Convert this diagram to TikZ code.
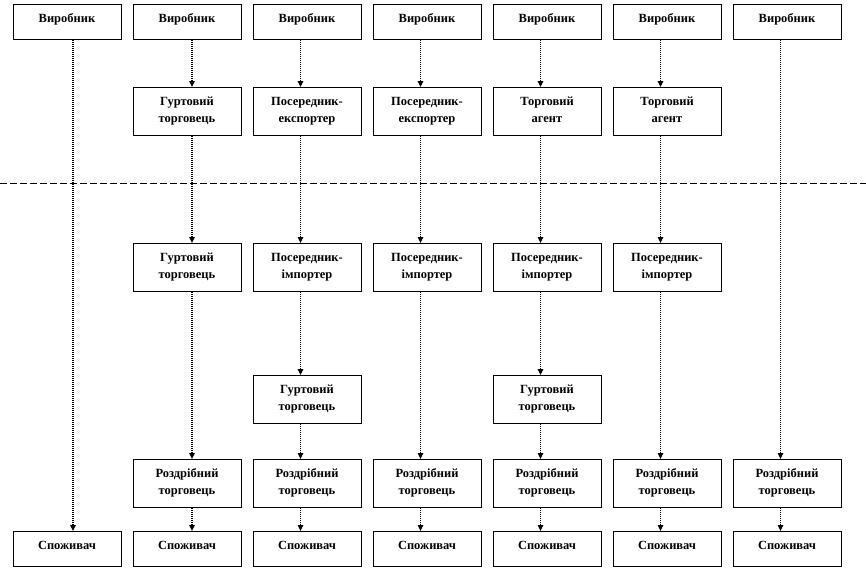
\documentclass[tikz,border=0pt]{standalone}
\usepackage{fontspec}
\setmainfont{Liberation Serif}
\usetikzlibrary{arrows.meta}
\newcommand{\twol}[2]{\begin{tabular}[t]{@{}c@{}}#1\\#2\end{tabular}}
\begin{document}
\begin{tikzpicture}[x=1pt,y=-1pt,
  box/.style={draw, line width=0.9pt, minimum width=108pt, inner sep=0pt, anchor=north,
    font=\fontsize{12.5}{17}\selectfont\bfseries},
  one/.style={box, minimum height=35pt, text height=9pt, text depth=8pt},
  two/.style={box, minimum height=48pt, text height=9pt, text depth=21pt},
  conn/.style={line width=1.3pt, dash pattern=on 1pt off 1pt,
    -{Triangle[length=6pt,width=5.5pt]}},
  sep/.style={line width=0.9pt, dash pattern=on 6.5pt off 3.5pt}]
\useasboundingbox (0,0) rectangle (866,570);
% separator
\coordinate (dl) at (0,183);
\coordinate (dr) at (866,183);
\draw[sep] (dl) -- (dr);
% column 1
\node[one] (a1) at (67,4) {Виробник};
\node[one] (f1) at (67,531) {Споживач};
% column 2
\node[one] (a2) at (187,4) {Виробник};
\node[two] (b2) at (187,87) {\twol{Гуртовий}{торговець}};
\node[two] (c2) at (187,243) {\twol{Гуртовий}{торговець}};
\node[two] (e2) at (187,459) {\twol{Роздрібний}{торговець}};
\node[one] (f2) at (187,531) {Споживач};
% column 3
\node[one] (a3) at (307,4) {Виробник};
\node[two] (b3) at (307,87) {\twol{Посередник-}{експортер}};
\node[two] (c3) at (307,243) {\twol{Посередник-}{імпортер}};
\node[two] (d3) at (307,375) {\twol{Гуртовий}{торговець}};
\node[two] (e3) at (307,459) {\twol{Роздрібний}{торговець}};
\node[one] (f3) at (307,531) {Споживач};
% column 4
\node[one] (a4) at (427,4) {Виробник};
\node[two] (b4) at (427,87) {\twol{Посередник-}{експортер}};
\node[two] (c4) at (427,243) {\twol{Посередник-}{імпортер}};
\node[two] (e4) at (427,459) {\twol{Роздрібний}{торговець}};
\node[one] (f4) at (427,531) {Споживач};
% column 5
\node[one] (a5) at (547,4) {Виробник};
\node[two] (b5) at (547,87) {\twol{Торговий}{агент}};
\node[two] (c5) at (547,243) {\twol{Посередник-}{імпортер}};
\node[two] (d5) at (547,375) {\twol{Гуртовий}{торговець}};
\node[two] (e5) at (547,459) {\twol{Роздрібний}{торговець}};
\node[one] (f5) at (547,531) {Споживач};
% column 6
\node[one] (a6) at (667,4) {Виробник};
\node[two] (b6) at (667,87) {\twol{Торговий}{агент}};
\node[two] (c6) at (667,243) {\twol{Посередник-}{імпортер}};
\node[two] (e6) at (667,459) {\twol{Роздрібний}{торговець}};
\node[one] (f6) at (667,531) {Споживач};
% column 7
\node[one] (a7) at (787,4) {Виробник};
\node[two] (e7) at (787,459) {\twol{Роздрібний}{торговець}};
\node[one] (f7) at (787,531) {Споживач};
% connectors
\draw[conn] ([xshift=6pt]a1.south) -- ([xshift=6pt]f1.north);
\foreach \p/\q in {a2/b2,b2/c2,c2/e2,e2/f2}
  \draw[conn] ([xshift=5pt]\p.south) -- ([xshift=5pt]\q.north);
\foreach \p/\q in {a3/b3,b3/c3,c3/d3,d3/e3,e3/f3,
                   a4/b4,b4/c4,c4/e4,e4/f4,
                   a5/b5,b5/c5,c5/d5,d5/e5,e5/f5,
                   a6/b6,b6/c6,c6/e6,e6/f6,
                   a7/e7,e7/f7}
  \draw[conn] ([xshift=-6.5pt]\p.south) -- ([xshift=-6.5pt]\q.north);
\end{tikzpicture}
\end{document}
